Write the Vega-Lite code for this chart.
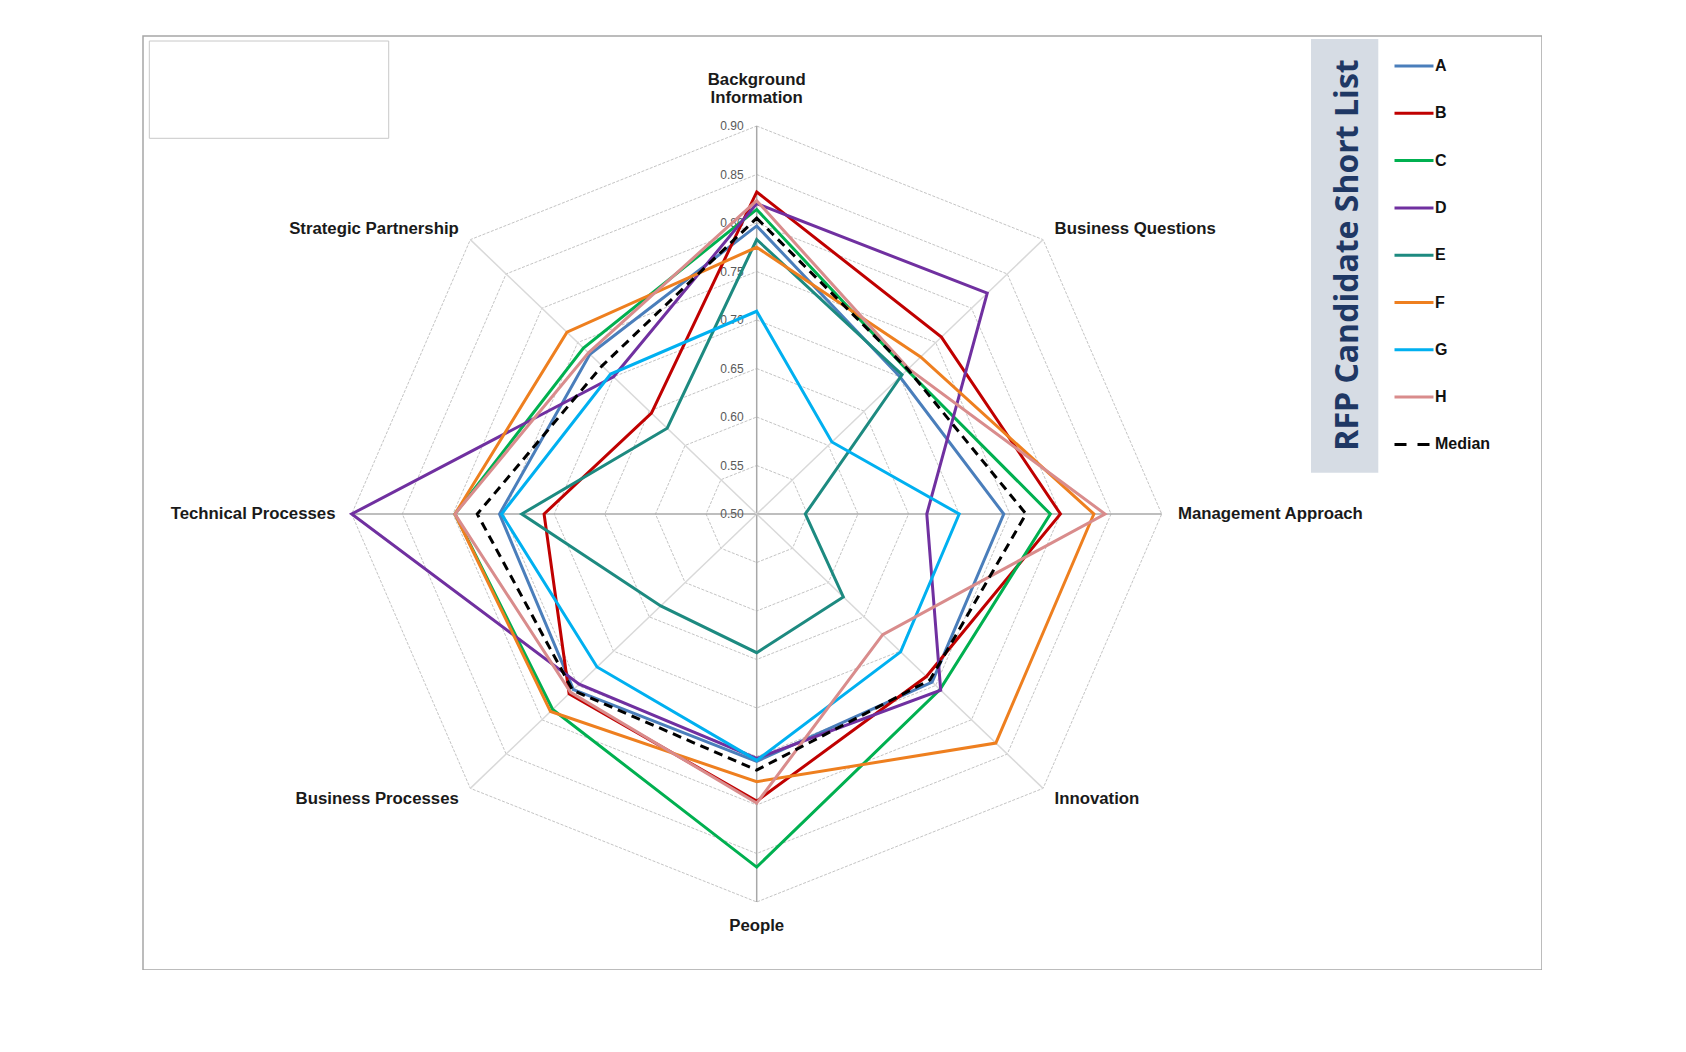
{
  "$schema": "https://vega.github.io/schema/vega-lite/v6.json",
  "description": "RFP candidate short list radar chart.",
  "width": 1399,
  "height": 934,
  "autosize": {"type": "none"},
  "padding": {"left": 143, "top": 36, "right": 0, "bottom": 0},
  "background": "white",
  "datasets": {
    "axes": [
      {"axis": "Background Information", "idx": 0},
      {"axis": "Business Questions", "idx": 1},
      {"axis": "Management Approach", "idx": 2},
      {"axis": "Innovation", "idx": 3},
      {"axis": "People", "idx": 4},
      {"axis": "Business Processes", "idx": 5},
      {"axis": "Technical Processes", "idx": 6},
      {"axis": "Strategic Partnership", "idx": 7}
    ],
    "levels": [
      {"level": 0.5}, {"level": 0.55}, {"level": 0.6}, {"level": 0.65}, {"level": 0.7},
      {"level": 0.75}, {"level": 0.8}, {"level": 0.85}, {"level": 0.9}
    ],
    "notes": [
      {"note": "RFP Candidate Short List"}
    ],
    "scores": [
      {"series": "A", "Background Information": 0.797, "Business Questions": 0.700, "Management Approach": 0.744, "Innovation": 0.745, "People": 0.755, "Business Processes": 0.756, "Technical Processes": 0.754, "Strategic Partnership": 0.733},
      {"series": "B", "Background Information": 0.832, "Business Questions": 0.758, "Management Approach": 0.800, "Innovation": 0.737, "People": 0.796, "Business Processes": 0.762, "Technical Processes": 0.710, "Strategic Partnership": 0.647},
      {"series": "C", "Background Information": 0.814, "Business Questions": 0.710, "Management Approach": 0.790, "Innovation": 0.756, "People": 0.864, "Business Processes": 0.785, "Technical Processes": 0.798, "Strategic Partnership": 0.742},
      {"series": "D", "Background Information": 0.820, "Business Questions": 0.822, "Management Approach": 0.668, "Innovation": 0.757, "People": 0.752, "Business Processes": 0.748, "Technical Processes": 0.900, "Strategic Partnership": 0.700},
      {"series": "E", "Background Information": 0.783, "Business Questions": 0.703, "Management Approach": 0.548, "Innovation": 0.621, "People": 0.643, "Business Processes": 0.634, "Technical Processes": 0.732, "Strategic Partnership": 0.625},
      {"series": "F", "Background Information": 0.775, "Business Questions": 0.729, "Management Approach": 0.833, "Innovation": 0.834, "People": 0.776, "Business Processes": 0.788, "Technical Processes": 0.798, "Strategic Partnership": 0.765},
      {"series": "G", "Background Information": 0.709, "Business Questions": 0.605, "Management Approach": 0.700, "Innovation": 0.701, "People": 0.754, "Business Processes": 0.723, "Technical Processes": 0.752, "Strategic Partnership": 0.704},
      {"series": "H", "Background Information": 0.823, "Business Questions": 0.712, "Management Approach": 0.844, "Innovation": 0.676, "People": 0.798, "Business Processes": 0.760, "Technical Processes": 0.798, "Strategic Partnership": 0.735},
      {"series": "Median", "Background Information": 0.805, "Business Questions": 0.711, "Management Approach": 0.766, "Innovation": 0.742, "People": 0.764, "Business Processes": 0.757, "Technical Processes": 0.776, "Strategic Partnership": 0.716}
    ]
  },
  "encoding": {
    "x": {"field": "px", "type": "quantitative", "scale": {"domain": [-1.5153, 1.939], "nice": false, "zero": false}, "axis": null},
    "y": {"field": "py", "type": "quantitative", "scale": {"domain": [-1.1753, 1.232], "nice": false, "zero": false}, "axis": null}
  },
  "layer": [
    {
      "data": {"name": "notes"},
      "transform": [
        {"calculate": "1.3686", "as": "px"},
        {"calculate": "1.5348", "as": "px2"},
        {"calculate": "1.2242", "as": "py"},
        {"calculate": "0.1064", "as": "py2"}
      ],
      "mark": {"type": "rect", "fill": "#d6dce4"},
      "encoding": {
        "x2": {"field": "px2"},
        "y2": {"field": "py2"}
      }
    },
    {
      "data": {"name": "notes"},
      "transform": [
        {"calculate": "-1.4997", "as": "px"},
        {"calculate": "-0.9086", "as": "px2"},
        {"calculate": "1.2191", "as": "py"},
        {"calculate": "0.9683", "as": "py2"}
      ],
      "mark": {"type": "rect", "fill": "white", "stroke": "#c8c8c8", "strokeWidth": 1},
      "encoding": {
        "x2": {"field": "px2"},
        "y2": {"field": "py2"}
      }
    },
    {
      "data": {"name": "levels"},
      "transform": [
        {"filter": "datum.level > 0.5"},
        {"calculate": "[0, 1, 2, 3, 4, 5, 6, 7]", "as": "idx"},
        {"flatten": ["idx"]},
        {"calculate": "(datum.level - 0.5) / 0.4 * sin(datum.idx * PI / 4)", "as": "px"},
        {"calculate": "(datum.level - 0.5) / 0.4 * cos(datum.idx * PI / 4)", "as": "py"}
      ],
      "mark": {"type": "line", "interpolate": "linear-closed", "color": "#c4c4c4", "strokeWidth": 1, "strokeDash": [3, 1.5]},
      "encoding": {
        "detail": {"field": "level", "type": "nominal"},
        "order": {"field": "idx", "type": "quantitative"}
      }
    },
    {
      "data": {"name": "axes"},
      "transform": [
        {"calculate": "sin(datum.idx * PI / 4)", "as": "px"},
        {"calculate": "cos(datum.idx * PI / 4)", "as": "py"}
      ],
      "mark": {"type": "rule", "strokeWidth": 1.5},
      "encoding": {
        "x": {"datum": 0},
        "y": {"datum": 0},
        "x2": {"field": "px"},
        "y2": {"field": "py"},
        "color": {"condition": {"test": "datum.idx % 2 === 0", "value": "#a8a8a8"}, "value": "#d9d9d9"}
      }
    },
    {
      "data": {"name": "levels"},
      "transform": [
        {"calculate": "0", "as": "px"},
        {"calculate": "(datum.level - 0.5) / 0.4", "as": "py"}
      ],
      "mark": {"type": "text", "align": "right", "baseline": "middle", "dx": -13, "fontSize": 12, "font": "Liberation Sans", "color": "#595959"},
      "encoding": {
        "text": {"field": "level", "type": "quantitative", "format": ".2f"}
      }
    },
    {
      "data": {"name": "scores"},
      "transform": [
        {"filter": "datum.series !== 'Median'"},
        {"fold": ["Background Information", "Business Questions", "Management Approach", "Innovation", "People", "Business Processes", "Technical Processes", "Strategic Partnership"], "as": ["axis", "score"]},
        {"lookup": "axis", "from": {"data": {"name": "axes"}, "key": "axis", "fields": ["idx"]}},
        {"calculate": "(datum.score - 0.5) / 0.4 * sin(datum.idx * PI / 4)", "as": "px"},
        {"calculate": "(datum.score - 0.5) / 0.4 * cos(datum.idx * PI / 4)", "as": "py"}
      ],
      "mark": {"type": "line", "interpolate": "linear-closed", "strokeWidth": 3},
      "encoding": {
        "order": {"field": "idx", "type": "quantitative"},
        "color": {
          "field": "series",
          "type": "nominal",
          "scale": {
            "domain": ["A", "B", "C", "D", "E", "F", "G", "H", "Median"],
            "range": ["#4a7ebb", "#c00000", "#00b050", "#7030a0", "#1d8a80", "#ee7f1f", "#00b0f0", "#d98c8c", "#000000"]
          },
          "legend": {
            "orient": "none",
            "legendX": 1250,
            "legendY": 9,
            "title": null,
            "padding": 0,
            "symbolType": "stroke",
            "symbolSize": 1521,
            "symbolStrokeWidth": 3,
            "labelFont": "Liberation Sans",
            "labelFontSize": 16,
            "labelFontWeight": "bold",
            "labelColor": "#111111",
            "labelOffset": 0,
            "rowPadding": 18.3,
            "encode": {
              "symbols": {"update": {"strokeDash": {"signal": "datum.value === 'Median' ? [12, 11] : [1, 0]"}}}
            }
          }
        }
      }
    },
    {
      "data": {"name": "scores"},
      "transform": [
        {"filter": "datum.series === 'Median'"},
        {"fold": ["Background Information", "Business Questions", "Management Approach", "Innovation", "People", "Business Processes", "Technical Processes", "Strategic Partnership"], "as": ["axis", "score"]},
        {"lookup": "axis", "from": {"data": {"name": "axes"}, "key": "axis", "fields": ["idx"]}},
        {"calculate": "(datum.score - 0.5) / 0.4 * sin(datum.idx * PI / 4)", "as": "px"},
        {"calculate": "(datum.score - 0.5) / 0.4 * cos(datum.idx * PI / 4)", "as": "py"}
      ],
      "mark": {"type": "line", "interpolate": "linear-closed", "strokeWidth": 3, "color": "#000000", "strokeDash": [9, 6]},
      "encoding": {
        "order": {"field": "idx", "type": "quantitative"}
      }
    },
    {
      "data": {"name": "axes"},
      "transform": [
        {"filter": "datum.idx >= 1 && datum.idx <= 3"},
        {"calculate": "1.04 * sin(datum.idx * PI / 4)", "as": "px"},
        {"calculate": "1.04 * cos(datum.idx * PI / 4)", "as": "py"}
      ],
      "mark": {"type": "text", "align": "left", "baseline": "middle", "font": "Liberation Sans", "fontWeight": "bold", "fontSize": 16.8, "color": "#1a1a1a"},
      "encoding": {"text": {"field": "axis"}}
    },
    {
      "data": {"name": "axes"},
      "transform": [
        {"filter": "datum.idx >= 5"},
        {"calculate": "1.04 * sin(datum.idx * PI / 4)", "as": "px"},
        {"calculate": "1.04 * cos(datum.idx * PI / 4)", "as": "py"}
      ],
      "mark": {"type": "text", "align": "right", "baseline": "middle", "font": "Liberation Sans", "fontWeight": "bold", "fontSize": 16.8, "color": "#1a1a1a"},
      "encoding": {"text": {"field": "axis"}}
    },
    {
      "data": {"name": "axes"},
      "transform": [
        {"filter": "datum.idx === 0"},
        {"calculate": "0", "as": "px"},
        {"calculate": "1.05", "as": "py"}
      ],
      "mark": {"type": "text", "align": "center", "baseline": "bottom", "dy": -18, "lineBreak": " ", "lineHeight": 18, "font": "Liberation Sans", "fontWeight": "bold", "fontSize": 16.8, "color": "#1a1a1a"},
      "encoding": {"text": {"field": "axis"}}
    },
    {
      "data": {"name": "axes"},
      "transform": [
        {"filter": "datum.idx === 4"},
        {"calculate": "0", "as": "px"},
        {"calculate": "-1.05", "as": "py"}
      ],
      "mark": {"type": "text", "align": "center", "baseline": "middle", "dy": 5, "font": "Liberation Sans", "fontWeight": "bold", "fontSize": 16.8, "color": "#1a1a1a"},
      "encoding": {"text": {"field": "axis"}}
    },
    {
      "data": {"name": "notes"},
      "transform": [
        {"calculate": "1.4854", "as": "px"},
        {"calculate": "0.6675", "as": "py"}
      ],
      "mark": {"type": "text", "angle": 270, "align": "center", "baseline": "alphabetic", "font": "Open Sans", "fontWeight": "bold", "fontSize": 32, "color": "#1f3864"},
      "encoding": {"text": {"field": "note"}}
    }
  ],
  "config": {
    "view": {"stroke": "#a6a6a6", "strokeWidth": 1.5},
    "font": "Liberation Sans"
  }
}
